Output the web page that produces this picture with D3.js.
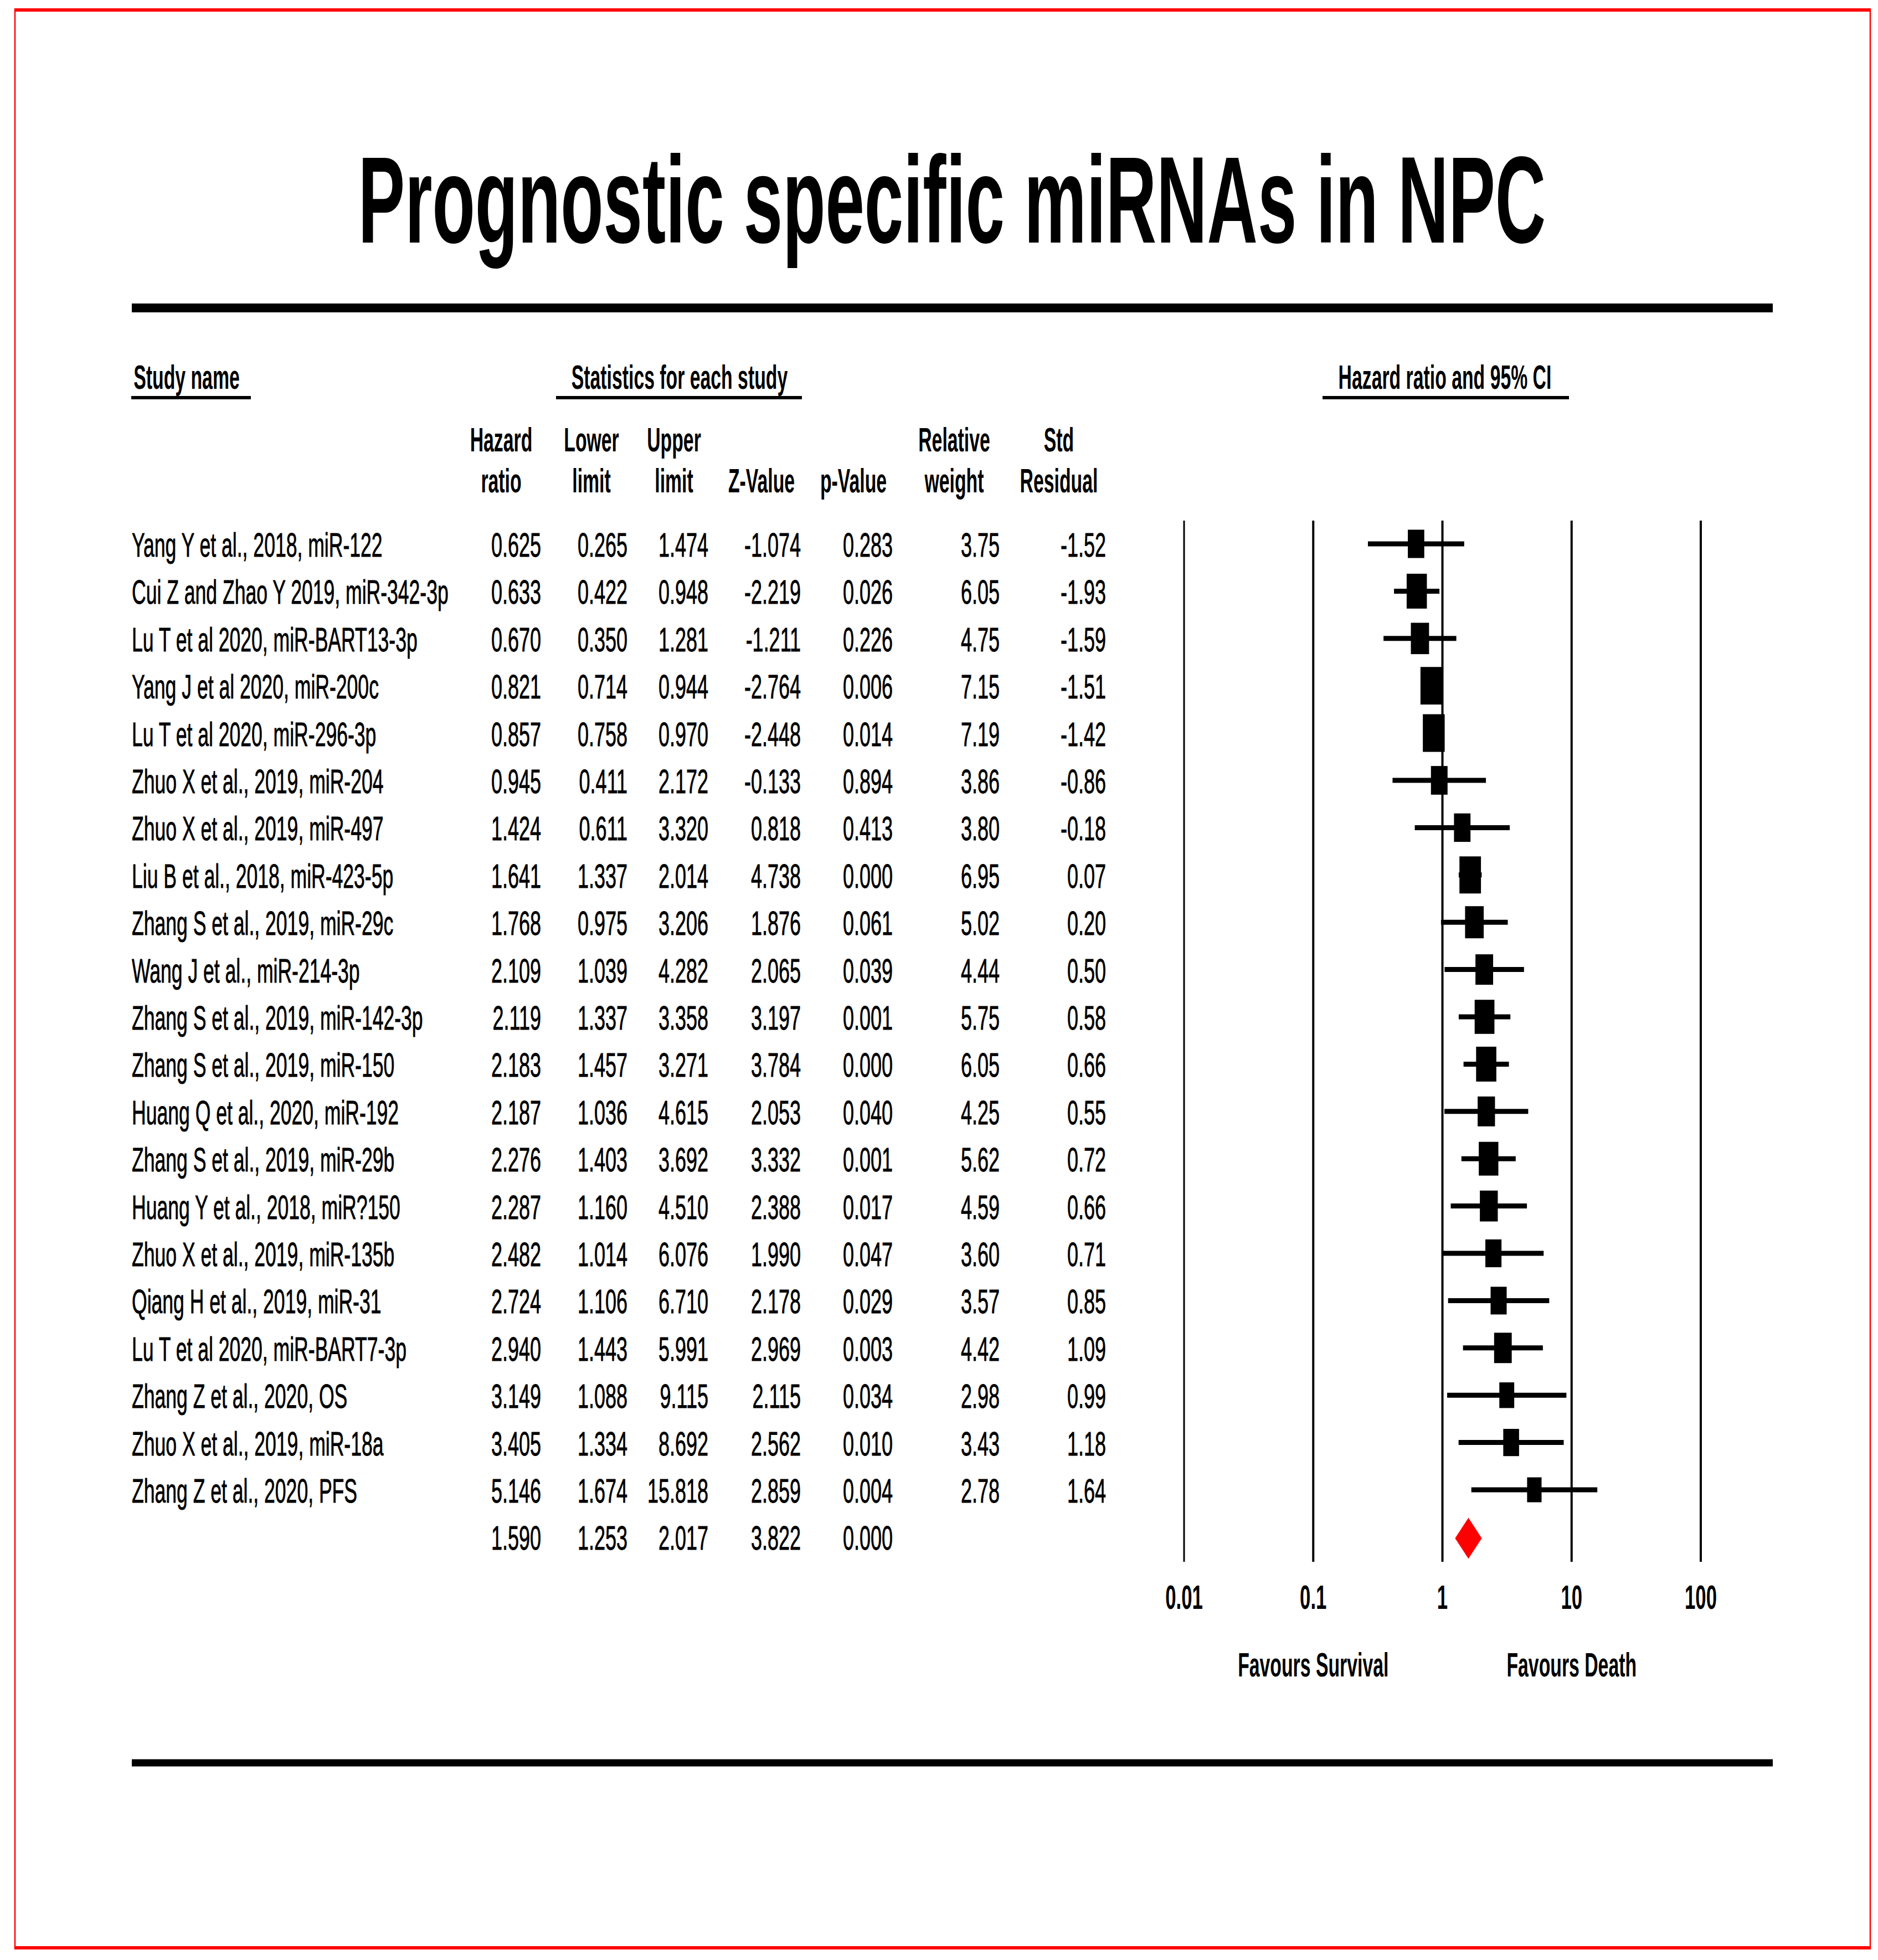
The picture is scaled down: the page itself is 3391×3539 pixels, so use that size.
<!DOCTYPE html>
<html>
<head>
<meta charset="utf-8">
<script src="https://cdn.jsdelivr.net/npm/d3@7"></script>
<style>
  html, body { margin: 0; padding: 0; background: #fff; }
  svg text { font-family: "Liberation Sans", Arial, sans-serif; fill: #000; }
</style>
</head>
<body>
<script>
// ---------------- DATA ----------------
const studies = [
  "Yang Y et al., 2018, miR-122",
  "Cui Z and Zhao Y 2019, miR-342-3p",
  "Lu T et al 2020, miR-BART13-3p",
  "Yang J et al 2020, miR-200c",
  "Lu T et al 2020, miR-296-3p",
  "Zhuo X et al., 2019, miR-204",
  "Zhuo X et al., 2019, miR-497",
  "Liu B et al., 2018, miR-423-5p",
  "Zhang S et al., 2019, miR-29c",
  "Wang J et al., miR-214-3p",
  "Zhang S et al., 2019, miR-142-3p",
  "Zhang S et al., 2019, miR-150",
  "Huang Q et al., 2020, miR-192",
  "Zhang S et al., 2019, miR-29b",
  "Huang Y et al., 2018, miR?150",
  "Zhuo X et al., 2019, miR-135b",
  "Qiang H et al., 2019, miR-31",
  "Lu T et al 2020, miR-BART7-3p",
  "Zhang Z et al., 2020, OS",
  "Zhuo X et al., 2019, miR-18a",
  "Zhang Z et al., 2020, PFS"
];
const hazardRatio = [0.625,0.633,0.670,0.821,0.857,0.945,1.424,1.641,1.768,2.109,2.119,2.183,2.187,2.276,2.287,2.482,2.724,2.940,3.149,3.405,5.146];
const lowerLimit  = [0.265,0.422,0.350,0.714,0.758,0.411,0.611,1.337,0.975,1.039,1.337,1.457,1.036,1.403,1.160,1.014,1.106,1.443,1.088,1.334,1.674];
const upperLimit  = [1.474,0.948,1.281,0.944,0.970,2.172,3.320,2.014,3.206,4.282,3.358,3.271,4.615,3.692,4.510,6.076,6.710,5.991,9.115,8.692,15.818];
const zValue      = [-1.074,-2.219,-1.211,-2.764,-2.448,-0.133,0.818,4.738,1.876,2.065,3.197,3.784,2.053,3.332,2.388,1.990,2.178,2.969,2.115,2.562,2.859];
const pValue      = [0.283,0.026,0.226,0.006,0.014,0.894,0.413,0.000,0.061,0.039,0.001,0.000,0.040,0.001,0.017,0.047,0.029,0.003,0.034,0.010,0.004];
const relWeight   = [3.75,6.05,4.75,7.15,7.19,3.86,3.80,6.95,5.02,4.44,5.75,6.05,4.25,5.62,4.59,3.60,3.57,4.42,2.98,3.43,2.78];
const stdResidual = [-1.52,-1.93,-1.59,-1.51,-1.42,-0.86,-0.18,0.07,0.20,0.50,0.58,0.66,0.55,0.72,0.66,0.71,0.85,1.09,0.99,1.18,1.64];
const summary = {hr: 1.590, lower: 1.253, upper: 2.017, z: 3.822, p: 0.000};
const tickValues = [0.01, 0.1, 1, 10, 100];
const tickLabels = ["0.01", "0.1", "1", "10", "100"];

const titleText = "Prognostic specific miRNAs in NPC";
const colHeaders = [
  ["Hazard", "ratio"], ["Lower", "limit"], ["Upper", "limit"],
  ["", "Z-Value"], ["", "p-Value"], ["Relative", "weight"], ["Std", "Residual"]
];

// ---------------- LAYOUT ----------------
const W = 3391, H = 3539;
const svg = d3.select("body").append("svg").attr("width", W).attr("height", H);

const FONT_REG = 61, SX_REG = 0.59;
const FONT_HDR = 62, SX_HDR = 0.545;

function txt(x, y, s, o = {}) {
  const size = o.size || FONT_REG;
  const sx = o.sx || SX_REG;
  const t = svg.append("text")
    .attr("transform", `translate(${x},${y}) scale(${sx},1)`)
    .attr("text-anchor", o.anchor || "start")
    .attr("font-size", size)
    .attr("font-weight", o.weight || "normal")
    .text(s);
  if (o.stroke) t.attr("stroke", "#000").attr("stroke-width", o.stroke);
  return t;
}

// red border
svg.append("line").attr("x1", 26).attr("x2", 3378).attr("y1", 18).attr("y2", 18).attr("stroke", "#ff0000").attr("stroke-width", 6);
svg.append("line").attr("x1", 26).attr("x2", 3378).attr("y1", 3517).attr("y2", 3517).attr("stroke", "#ff0000").attr("stroke-width", 6);
svg.append("line").attr("x1", 27).attr("x2", 27).attr("y1", 16).attr("y2", 3520).attr("stroke", "#ff0000").attr("stroke-width", 2.5);
svg.append("line").attr("x1", 3377).attr("x2", 3377).attr("y1", 16).attr("y2", 3520).attr("stroke", "#ff0000").attr("stroke-width", 2.5);

// title
txt(1719, 438, titleText, {size: 222, sx: 0.57, weight: "bold", anchor: "middle"});

// thick rules
svg.append("line").attr("x1", 238).attr("x2", 3201).attr("y1", 556).attr("y2", 556).attr("stroke", "#000").attr("stroke-width", 16);
svg.append("line").attr("x1", 238).attr("x2", 3201).attr("y1", 3183).attr("y2", 3183).attr("stroke", "#000").attr("stroke-width", 13);

// group headers with underlines
const groupHeaders = [
  {t: "Study name", cx: 337, x1: 237, x2: 453},
  {t: "Statistics for each study", cx: 1227, x1: 1004, x2: 1448},
  {t: "Hazard ratio and 95% CI", cx: 2609, x1: 2388, x2: 2833}
];
groupHeaders.forEach(g => {
  txt(g.cx, 702, g.t, {size: FONT_HDR, sx: SX_HDR, weight: "bold", anchor: "middle"});
  svg.append("line").attr("x1", g.x1).attr("x2", g.x2).attr("y1", 718).attr("y2", 718)
    .attr("stroke", "#000").attr("stroke-width", 6);
});

// column positions
const colRight = [977, 1133, 1279, 1446, 1612, 1805, 1997];
const colCenter = [905, 1068, 1217, 1375, 1541, 1723, 1912];
colHeaders.forEach((h, i) => {
  if (h[0]) txt(colCenter[i], 815, h[0], {size: FONT_HDR, sx: SX_HDR, weight: "bold", anchor: "middle"});
  txt(colCenter[i], 889, h[1], {size: FONT_HDR, sx: SX_HDR, weight: "bold", anchor: "middle"});
});

// row scale
const nRows = studies.length + 1;
const y = d3.scalePoint().domain(d3.range(nRows)).range([982, 982 + 85.4 * (nRows - 1)]);
const BASE = 23;

const f3 = v => v.toFixed(3);
const f2 = v => v.toFixed(2);

studies.forEach((s, i) => {
  const yb = y(i) + BASE;
  txt(238, yb, s, {sx: 0.583, stroke: 0.9});
  const vals = [f3(hazardRatio[i]), f3(lowerLimit[i]), f3(upperLimit[i]), f3(zValue[i]), f3(pValue[i]), f2(relWeight[i]), f2(stdResidual[i])];
  vals.forEach((v, j) => txt(colRight[j], yb, v, {anchor: "end", stroke: 0.9}));
});
// summary row
{
  const yb = y(nRows - 1) + BASE;
  [f3(summary.hr), f3(summary.lower), f3(summary.upper), f3(summary.z), f3(summary.p)]
    .forEach((v, j) => txt(colRight[j], yb, v, {anchor: "end", stroke: 0.9}));
}

// ---------------- FOREST PLOT ----------------
const x = d3.scaleLog().domain([0.01, 100]).range([2138, 3071]);
const plotTop = 940, plotBottom = 2820;

svg.append("g").selectAll("line").data(tickValues).join("line")
  .attr("x1", d => x(d)).attr("x2", d => x(d))
  .attr("y1", plotTop).attr("y2", plotBottom)
  .attr("stroke", "#000").attr("stroke-width", d => d === 0.01 ? 3 : 4);

tickValues.forEach((d, i) => txt(x(d), 2905, tickLabels[i], {size: 62, sx: 0.56, weight: "bold", anchor: "middle"}));

txt(x(0.1), 3027, "Favours Survival", {size: FONT_HDR, sx: SX_HDR, weight: "bold", anchor: "middle"});
txt(x(10), 3027, "Favours Death", {size: FONT_HDR, sx: SX_HDR, weight: "bold", anchor: "middle"});

const rows = studies.map((s, i) => ({i, hr: hazardRatio[i], lo: lowerLimit[i], hi: upperLimit[i], w: relWeight[i]}));

// box height from weight (area-like sqrt scaling)
const boxH = d3.scaleLinear().domain([Math.sqrt(2.78), Math.sqrt(7.19)]).range([45, 68]);
const BOX_ASPECT = 0.58;

const fg = svg.append("g");
fg.selectAll("line.ci").data(rows).join("line").attr("class", "ci")
  .attr("x1", d => x(d.lo)).attr("x2", d => x(d.hi))
  .attr("y1", d => y(d.i)).attr("y2", d => y(d.i))
  .attr("stroke", "#000").attr("stroke-width", 9);

fg.selectAll("rect.box").data(rows).join("rect").attr("class", "box")
  .attr("x", d => x(d.hr) - boxH(Math.sqrt(d.w)) * BOX_ASPECT / 2)
  .attr("y", d => y(d.i) - boxH(Math.sqrt(d.w)) / 2)
  .attr("width", d => boxH(Math.sqrt(d.w)) * BOX_ASPECT)
  .attr("height", d => boxH(Math.sqrt(d.w)))
  .attr("fill", "#000");

// summary diamond
{
  const yc = y(nRows - 1) + 2;
  const hh = 37;
  const pts = [[x(summary.lower), yc], [x(summary.hr), yc - hh], [x(summary.upper), yc], [x(summary.hr), yc + hh]];
  fg.append("path").attr("d", d3.line()(pts) + "Z").attr("fill", "#ff0000");
}
</script>
</body>
</html>
